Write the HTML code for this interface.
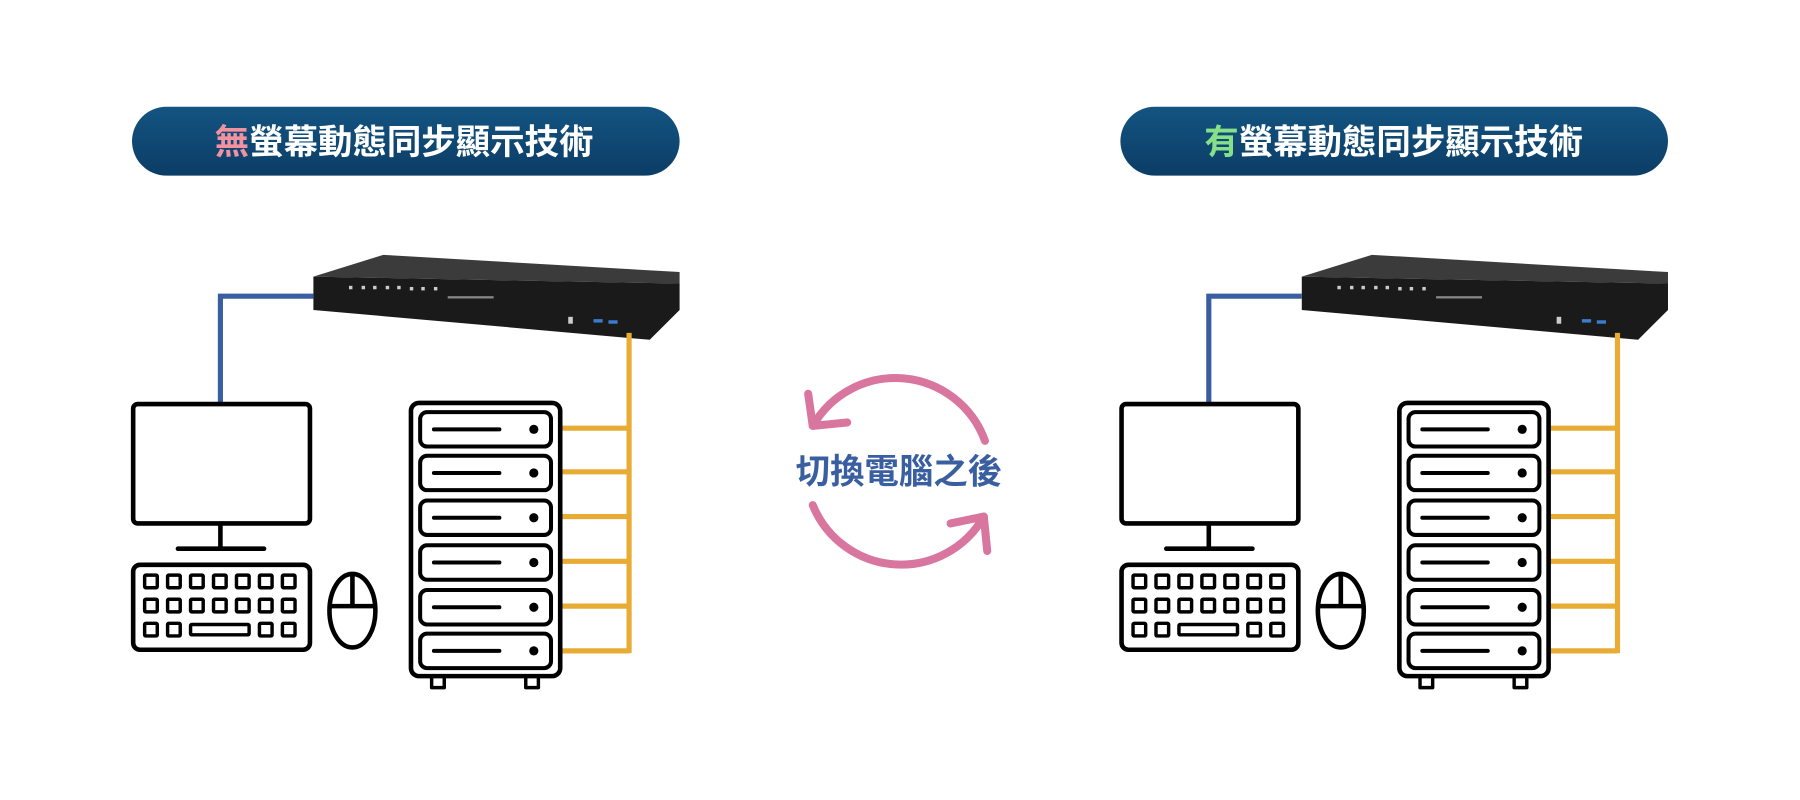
<!DOCTYPE html>
<html><head><meta charset="utf-8"><style>html,body{margin:0;padding:0;background:#fff;}svg{display:block;}</style></head>
<body>
<svg xmlns="http://www.w3.org/2000/svg" width="1800" height="800" viewBox="0 0 1568 696.9" preserveAspectRatio="none">
<defs>
<linearGradient id="pg" x1="0" y1="0" x2="0" y2="1"><stop offset="0" stop-color="#145481"/><stop offset="1" stop-color="#0b3d66"/></linearGradient>
<g id="side">
  <rect x="115" y="93" width="477" height="60" rx="30" fill="url(#pg)"/>
  <polygon points="273,241 334,222 592,237 592,247" fill="#3b3b3b"/>
  <polygon points="273,241 592,247 592,270 566,296 273,270" fill="#1a1a1a"/>
  <g fill="#ccc">
    <rect x="304" y="249" width="3" height="3"/><rect x="315" y="249" width="3" height="3"/><rect x="325" y="249" width="3" height="3"/><rect x="336" y="249" width="3" height="3"/><rect x="346" y="249" width="3" height="3"/><rect x="357" y="250" width="3" height="3"/><rect x="367" y="250" width="3" height="3"/><rect x="378" y="250" width="3" height="3"/>
    <rect x="390" y="258" width="40" height="2" fill="#888"/>
    <rect x="495" y="276" width="4" height="6"/><rect x="517" y="278" width="8" height="3" fill="#3b7bd0"/><rect x="530" y="279" width="8" height="3" fill="#3b7bd0"/>
  </g>
  <polyline points="273,258 192,258 192,352" fill="none" stroke="#3a5fa0" stroke-width="4.5"/>
  <g stroke="#e8ac35" stroke-width="4.5" fill="none">
    <line x1="548" y1="290" x2="548" y2="569"/>
    <line x1="488" y1="373" x2="548" y2="373"/><line x1="488" y1="411" x2="548" y2="411"/><line x1="488" y1="450" x2="548" y2="450"/><line x1="488" y1="489" x2="548" y2="489"/><line x1="488" y1="528" x2="548" y2="528"/><line x1="488" y1="567" x2="548" y2="567"/>
  </g>
  <g stroke="#000" stroke-width="4" fill="none" stroke-linejoin="round">
    <rect x="116" y="352" width="154" height="104" rx="4"/>
    <line x1="192" y1="456" x2="192" y2="478"/>
    <line x1="155" y1="478" x2="230" y2="478" stroke-linecap="round"/>
    <rect x="116" y="492" width="154" height="74" rx="6"/>
    <g stroke-width="3">
      <rect x="126" y="501" width="11" height="11" rx="1"/><rect x="146" y="501" width="11" height="11" rx="1"/><rect x="166" y="501" width="11" height="11" rx="1"/><rect x="186" y="501" width="11" height="11" rx="1"/><rect x="206" y="501" width="11" height="11" rx="1"/><rect x="226" y="501" width="11" height="11" rx="1"/><rect x="246" y="501" width="11" height="11" rx="1"/>
      <rect x="126" y="522" width="11" height="11" rx="1"/><rect x="146" y="522" width="11" height="11" rx="1"/><rect x="166" y="522" width="11" height="11" rx="1"/><rect x="186" y="522" width="11" height="11" rx="1"/><rect x="206" y="522" width="11" height="11" rx="1"/><rect x="226" y="522" width="11" height="11" rx="1"/><rect x="246" y="522" width="11" height="11" rx="1"/>
      <rect x="126" y="543" width="11" height="11" rx="1"/><rect x="146" y="543" width="11" height="11" rx="1"/><rect x="166" y="544" width="51" height="9" rx="1"/><rect x="226" y="543" width="11" height="11" rx="1"/><rect x="246" y="543" width="11" height="11" rx="1"/>
    </g>
    <ellipse cx="307" cy="532" rx="20" ry="32"/>
    <line x1="307" y1="500" x2="307" y2="528"/>
    <line x1="287" y1="528" x2="327" y2="528"/>
    <rect x="358" y="351" width="130" height="238" rx="7"/>
    <rect x="376" y="589" width="11" height="10" stroke-width="3"/>
    <rect x="458" y="589" width="11" height="10" stroke-width="3"/>
    <g stroke-width="3.5">
      <rect x="366" y="359" width="114" height="30" rx="6"/><rect x="366" y="397" width="114" height="30" rx="6"/><rect x="366" y="436" width="114" height="30" rx="6"/><rect x="366" y="475" width="114" height="30" rx="6"/><rect x="366" y="514" width="114" height="30" rx="6"/><rect x="366" y="552" width="114" height="30" rx="6"/>
    </g>
    <g stroke-width="3.5" stroke-linecap="round">
      <line x1="378" y1="374" x2="435" y2="374"/><line x1="378" y1="412" x2="435" y2="412"/><line x1="378" y1="451" x2="435" y2="451"/><line x1="378" y1="490" x2="435" y2="490"/><line x1="378" y1="529" x2="435" y2="529"/><line x1="378" y1="567" x2="435" y2="567"/>
    </g>
  </g>
  <g fill="#000"><circle cx="465" cy="374" r="4"/><circle cx="465" cy="412" r="4"/><circle cx="465" cy="451" r="4"/><circle cx="465" cy="490" r="4"/><circle cx="465" cy="529" r="4"/><circle cx="465" cy="567" r="4"/></g>
</g>
</defs>
<use href="#side"/>
<use href="#side" transform="translate(861,0)"/>
<g font-family="'Liberation Sans','Noto Sans CJK TC',sans-serif" font-size="30" font-weight="bold" text-anchor="middle" fill="#fff">
  <text x="352" y="134"><tspan fill="#f2919f">無</tspan>螢幕動態同步顯示技術</text>
  <text x="1214" y="134"><tspan fill="#86e08a">有</tspan>螢幕動態同步顯示技術</text>
</g>
<g fill="none" stroke="#d9769f" stroke-width="7" stroke-linecap="round" stroke-linejoin="round">
  <path d="M708 371 A83 83 0 0 1 858 384"/>
  <polyline points="704,343 708,371 738,368"/>
  <path d="M708 440 A83 83 0 0 0 857 450"/>
  <polyline points="828,456 857,450 860,480"/>
</g>
<text x="783" y="421" font-family="'Liberation Sans','Noto Sans CJK TC',sans-serif" font-size="30" font-weight="bold" fill="#3a5fa0" text-anchor="middle">切換電腦之後</text>
</svg>
</body></html>
